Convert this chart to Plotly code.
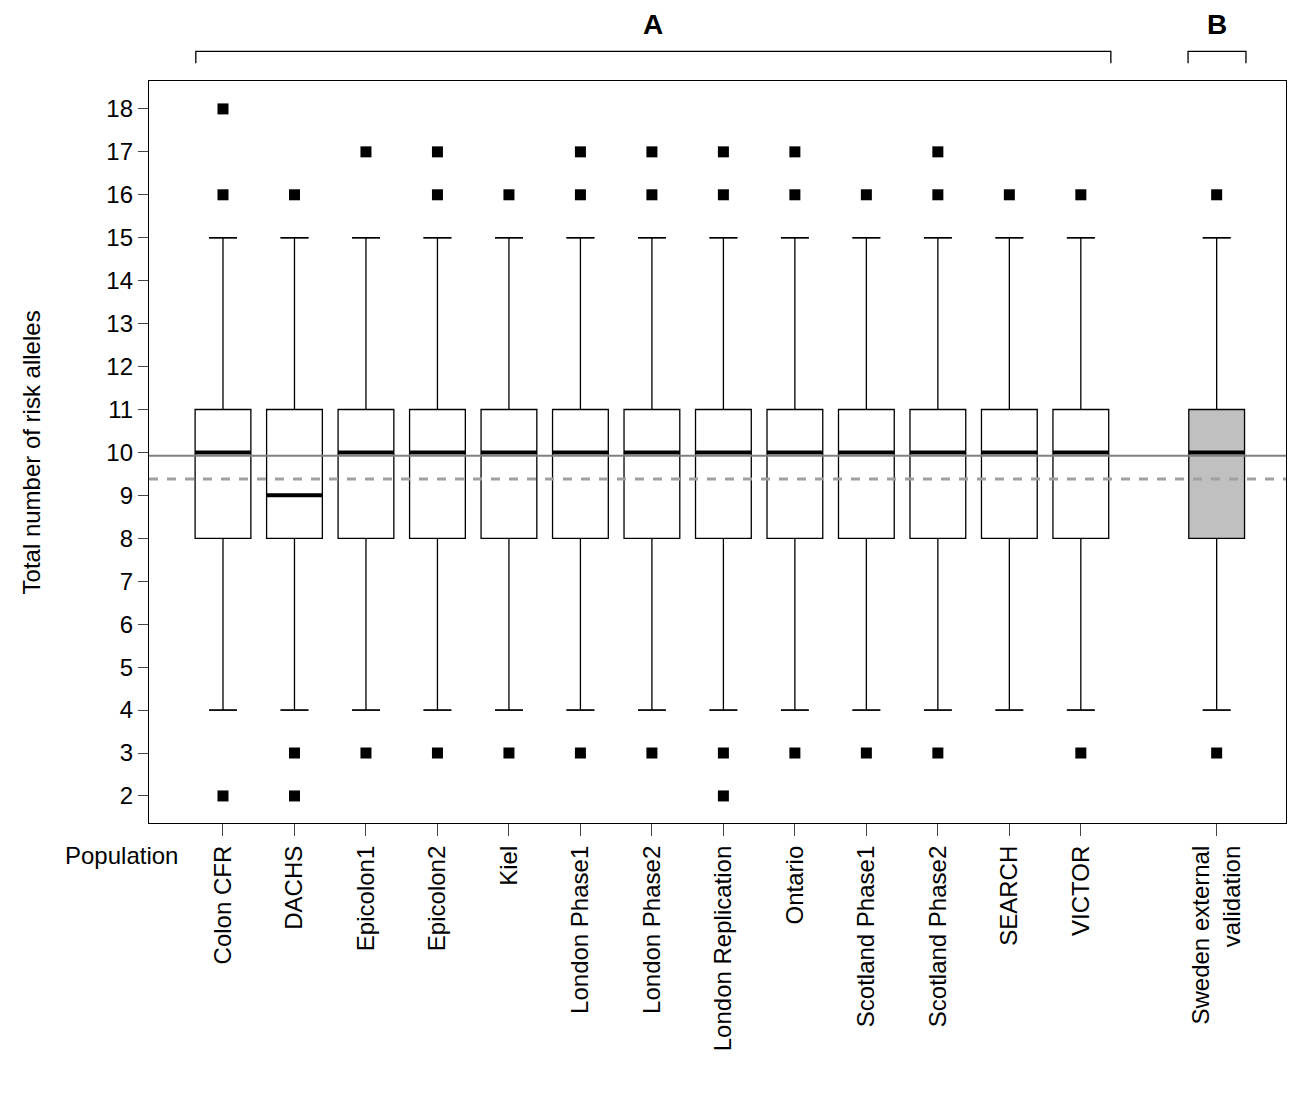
import plotly.graph_objects as go

# population labels and box stats
populations = ["Colon CFR", "DACHS", "Epicolon1", "Epicolon2", "Kiel", "London Phase1",
               "London Phase2", "London Replication", "Ontario", "Scotland Phase1",
               "Scotland Phase2", "SEARCH", "VICTOR", "Sweden external<br>validation"]
positions = [1, 2, 3, 4, 5, 6, 7, 8, 9, 10, 11, 12, 13, 14.9]
q1 = [8] * 14
q3 = [11] * 14
medians = [10, 9, 10, 10, 10, 10, 10, 10, 10, 10, 10, 10, 10, 10]
lower = [4] * 14
upper = [15] * 14
outliers = [[18, 16, 2], [16, 3, 2], [17, 3], [17, 16, 3], [16, 3], [17, 16, 3],
            [17, 16, 3], [17, 16, 3, 2], [17, 16, 3], [16, 3], [17, 16, 3], [16],
            [16, 3], [16, 3]]
fills = ["white"] * 13 + ["#c0c0c0"]
mean_all = 9.92
mean_dashed = 9.38

fig = go.Figure()
bw = 0.78
for i, p in enumerate(positions):
    fig.add_trace(go.Box(x=[p], q1=[q1[i]], median=[medians[i]], q3=[q3[i]],
                         lowerfence=[lower[i]], upperfence=[upper[i]], width=bw,
                         fillcolor=fills[i], line=dict(color="black", width=1.3),
                         boxpoints=False, showlegend=False, hoverinfo="skip"))
    # thick median and whisker caps
    fig.add_trace(go.Scatter(x=[p - bw / 2, p + bw / 2], y=[medians[i]] * 2, mode="lines",
                             line=dict(color="black", width=4), showlegend=False))
    for v in (lower[i], upper[i]):
        fig.add_trace(go.Scatter(x=[p - bw / 4, p + bw / 4], y=[v, v], mode="lines",
                                 line=dict(color="black", width=1.3), showlegend=False))
    fig.add_trace(go.Scatter(x=[p] * len(outliers[i]), y=outliers[i], mode="markers",
                             marker=dict(symbol="square", size=11, color="black"),
                             showlegend=False))

fig.add_hline(y=mean_all, line=dict(color="#808080", width=2))
fig.add_hline(y=mean_dashed, line=dict(color="#a0a0a0", width=3, dash="dash"))

# group brackets
for x0, x1, lab in [(0.62, 13.42, "A"), (14.5, 15.31, "B")]:
    fig.add_shape(type="path", xref="x", yref="paper",
                  path=f"M {x0} 1.024 L {x0} 1.04 L {x1} 1.04 L {x1} 1.024",
                  line=dict(color="black", width=1.3))
    fig.add_annotation(x=(x0 + x1) / 2, y=1.076, xref="x", yref="paper", text=f"<b>{lab}</b>",
                       showarrow=False, yanchor="middle", font=dict(size=28, color="black"))
fig.add_annotation(x=-0.076, y=-0.065, xref="paper", yref="paper", text="Population",
                   showarrow=False, font=dict(size=24, color="black"))
fig.add_annotation(x=-0.117, y=0.5, xref="paper", yref="paper", text="Total number of risk alleles",
                   textangle=-90, showarrow=False, font=dict(size=24, color="black"))

fig.update_xaxes(range=[-0.035, 15.87], tickvals=positions, ticktext=populations,
                 tickangle=-90, ticks="outside", ticklen=12, showline=True, mirror=True,
                 linecolor="black", linewidth=1.3, showgrid=False, zeroline=False,
                 automargin=False, tickfont=dict(size=24, color="black"))
fig.update_yaxes(range=[1.37, 18.65], tickvals=list(range(2, 19)), ticks="outside",
                 ticklen=10, showline=True, mirror=True, linecolor="black", linewidth=1.3,
                 showgrid=False, zeroline=False, automargin=False,
                 tickfont=dict(size=24, color="black"))
fig.update_layout(width=1295, height=1112, plot_bgcolor="white", paper_bgcolor="white",
                  margin=dict(l=141, r=17, t=73, b=297),
                  font=dict(family="Liberation Sans, Arial, sans-serif"))
fig.write_html("out.html")
